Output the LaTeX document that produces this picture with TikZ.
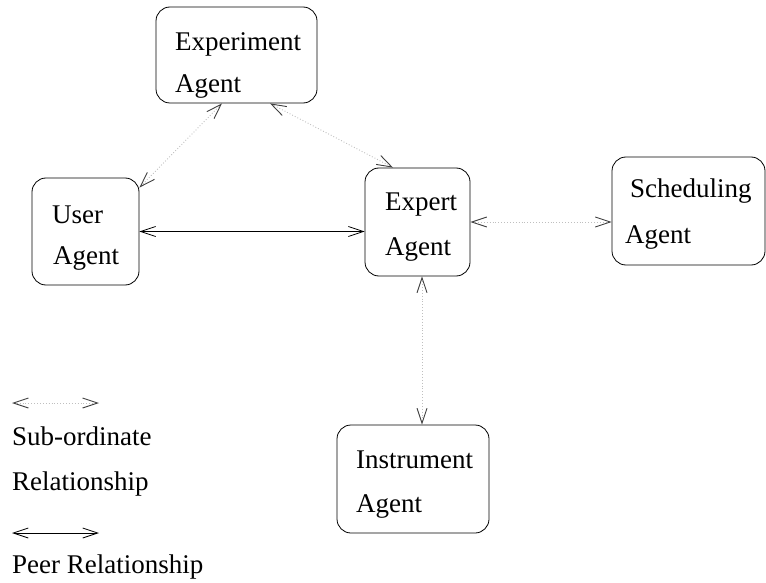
\documentclass[tikz,border=0pt]{standalone}
\usepackage{fontspec}
\setmainfont{Liberation Serif}
\usetikzlibrary{arrows.meta, calc}

\tikzset{
    agentbox/.style={draw, rounded corners=14pt, line width=0.8pt, inner sep=0pt},
    agenttext/.style={anchor=base west, inner sep=0pt, font=\fontsize{27}{32}\selectfont},
    peerarrow/.style={line width=0.8pt, {Straight Barb[length=15pt,width=10pt]}-{Straight Barb[length=15pt,width=10pt]}},
    subarrow/.style={line width=0.9pt, black!25, dotted,
        {Straight Barb[length=15pt,width=10pt,color=black!75]}-{Straight Barb[length=15pt,width=10pt,color=black!75]}}
}

\begin{document}
\begin{tikzpicture}[x=1pt, y=-1pt]
    \useasboundingbox (0,0) rectangle (766,583);
    % agent boxes
    \node [agentbox, minimum width=161pt, minimum height=96pt] (expt) at (236.5,55) {};
    \node [agentbox, minimum width=107pt, minimum height=107pt] (user) at (85.5,231.5) {};
    \node [agentbox, minimum width=105pt, minimum height=108pt] (expert) at (417.5,222) {};
    \node [agentbox, minimum width=153pt, minimum height=108pt] (sched) at (688.5,211) {};
    \node [agentbox, minimum width=152pt, minimum height=108pt] (instr) at (413,479) {};
    % labels
    \node [agenttext] (exptA) at (175,51) {Experiment};
    \node [agenttext] (exptB) at (175,93) {Agent};
    \node [agenttext] (userA) at (52,223) {User};
    \node [agenttext] (userB) at (53,264) {Agent};
    \node [agenttext] (expertA) at (385,211) {Expert};
    \node [agenttext] (expertB) at (385,255) {Agent};
    \node [agenttext] (schedA) at (630,197) {Scheduling};
    \node [agenttext] (schedB) at (625,243) {Agent};
    \node [agenttext] (instrA) at (356,468) {Instrument};
    \node [agenttext] (instrB) at (356,512) {Agent};
    % relationships
    \draw [peerarrow] (user.east) -- (user.east -| expert.west);
    \draw [subarrow] ([xshift=-14.5pt]expt.south) -- ([yshift=-10pt]user.north east);
    \draw [subarrow] ([xshift=33.5pt]expt.south) -- ([xshift=-24.5pt]expert.north);
    \draw [subarrow] (expert.east) -- (expert.east -| sched.west);
    \draw [subarrow] ([xshift=4.5pt]expert.south) -- ([xshift=4.5pt]expert.south |- instr.north);
    % legend
    \coordinate (subL) at (12,403);
    \coordinate (subR) at (99,403);
    \coordinate (peerL) at (12,533);
    \coordinate (peerR) at (99,533);
    \draw [subarrow] (subL) -- (subR);
    \node [agenttext] (subA) at (12,445) {Sub-ordinate};
    \node [agenttext] (subB) at (12,490) {Relationship};
    \draw [peerarrow] (peerL) -- (peerR);
    \node [agenttext] (peerA) at (12,573) {Peer Relationship};
\end{tikzpicture}
\end{document}
